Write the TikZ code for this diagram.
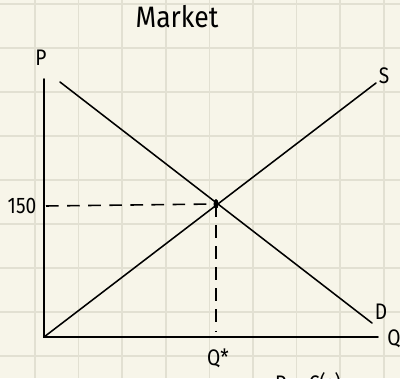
\documentclass[tikz,border=0pt]{standalone}
\usepackage{fontspec}
\setmainfont{Fira Sans}
\usetikzlibrary{positioning}
\definecolor{paper}{HTML}{F7F5E9}
\definecolor{gridline}{HTML}{E2E0D2}

\begin{document}
\begin{tikzpicture}[
  x=0.025cm, y=-0.025cm,
  lbl/.style={inner sep=1pt, font=\fontsize{16}{16}\selectfont\addfontfeatures{FakeStretch=0.85}},
  curve/.style={line width=1.1pt, line cap=round},
  guide/.style={line width=1.1pt, dash pattern=on 9pt off 6pt}
]
\useasboundingbox (0,0) rectangle (400,378);
\fill[paper] (0,0) rectangle (400,378);
\begin{scope}
\clip (0,0) rectangle (400,378);
\foreach \gx in {0,...,8} \draw[gridline, line width=1.2pt] (35+43.6*\gx,0) -- (35+43.6*\gx,378);
\foreach \gy in {0,...,8} \draw[gridline, line width=1.2pt] (0,4+44*\gy) -- (400,4+44*\gy);
\node[lbl, anchor=north] (foot) at (308,371) {P\quad C(s)};
\end{scope}

% points of the diagram
\coordinate (ptop) at (44,79);
\coordinate (origin) at (44,337);
\coordinate (qend) at (378,337);
\coordinate (dtop) at (60,82);
\coordinate (dend) at (372,323);
\coordinate (stop) at (376,83);
\coordinate (eq) at (216,204);
\coordinate (p150) at (46,206);
\coordinate (qstar) at (216,332);

\node[lbl, font=\fontsize{21}{21}\selectfont\addfontfeatures{FakeStretch=0.9}] (title) at (177,17) {Market};
\node[lbl] (plab) at (41,58) {P};
\node[lbl] (slab) at (384,76) {S};
\node[lbl] (dlab) at (381,312) {D};
\node[lbl] (qlab) at (394,339) {Q};
\node[lbl] (val) at (22,206) {150};
\node[lbl] (qslab) at (218,358) {Q*};

\draw[curve] (ptop) -- (origin) -- (qend);
\draw[curve] (dtop) -- (dend);
\draw[curve] (origin) -- (stop);
\draw[guide] (p150) -- (eq);
\draw[guide] (eq) -- (qstar);
\fill (eq) ellipse (2.5 and 5);
\end{tikzpicture}
\end{document}
